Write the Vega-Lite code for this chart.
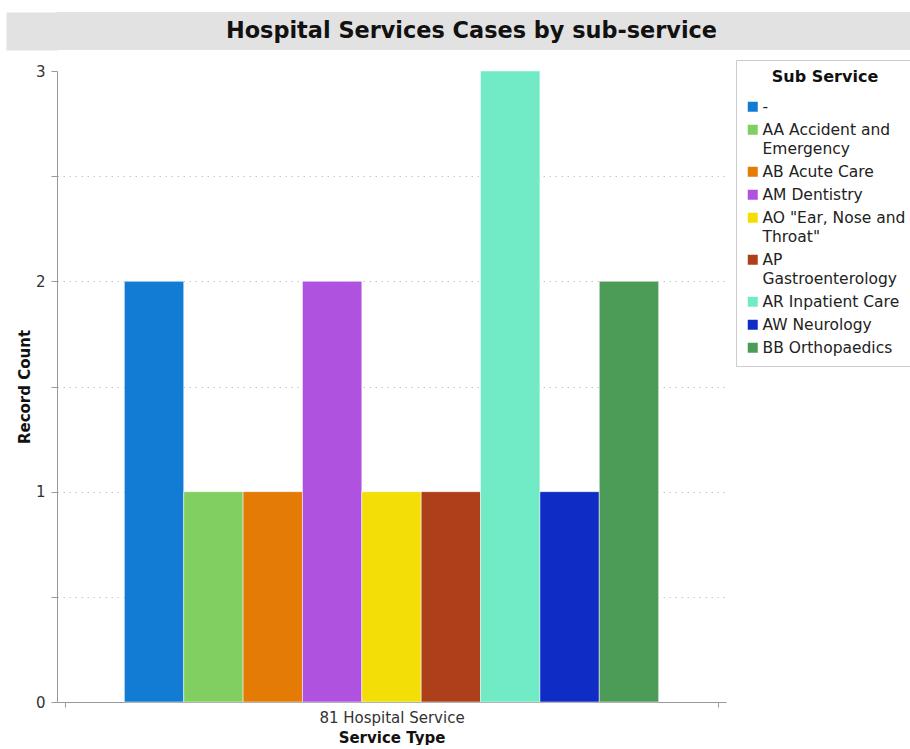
{
  "$schema": "https://vega.github.io/schema/vega-lite/v6.json",
  "background": "white",
  "padding": {"left": 17, "top": 12, "right": 0, "bottom": 0},
  "config": {
    "font": "DejaVu Sans",
    "view": {"stroke": null},
    "style": {"guide-label": {"lineHeight": 19}}
  },
  "datasets": {
    "cases": [
      {"service": "81 Hospital Service", "sub": "-", "count": 2},
      {"service": "81 Hospital Service", "sub": "AA Accident and Emergency", "count": 1},
      {"service": "81 Hospital Service", "sub": "AB Acute Care", "count": 1},
      {"service": "81 Hospital Service", "sub": "AM Dentistry", "count": 2},
      {"service": "81 Hospital Service", "sub": "AO \"Ear, Nose and Throat\"", "count": 1},
      {"service": "81 Hospital Service", "sub": "AP Gastroenterology", "count": 1},
      {"service": "81 Hospital Service", "sub": "AR Inpatient Care", "count": 3},
      {"service": "81 Hospital Service", "sub": "AW Neurology", "count": 1},
      {"service": "81 Hospital Service", "sub": "BB Orthopaedics", "count": 2}
    ]
  },
  "resolve": {"scale": {"color": "independent"}, "legend": {"color": "independent"}},
  "vconcat": [
    {
      "width": 854,
      "height": 38,
      "view": {"fill": "#e2e2e2", "stroke": null},
      "data": {"values": [{"heading": "Hospital Services Cases by sub-service"}]},
      "mark": {
        "type": "text",
        "fontSize": 22.4,
        "fontWeight": "bold",
        "color": "#111111",
        "dx": -12.5,
        "baseline": "middle"
      },
      "encoding": {
        "text": {"field": "heading"},
        "y": {
          "datum": 0,
          "type": "quantitative",
          "scale": {"domain": [-1, 1]},
          "axis": {
            "title": null,
            "labels": false,
            "ticks": false,
            "grid": false,
            "domainColor": "#e2e2e2",
            "domainWidth": 51,
            "offset": 25.5
          }
        }
      }
    },
    {
      "width": 669,
      "height": 631,
      "data": {"name": "cases"},
      "mark": {"type": "bar", "stroke": "#ffffff", "strokeWidth": 1, "strokeOpacity": 0.5},
      "encoding": {
        "x": {
          "field": "service",
          "type": "nominal",
          "scale": {"paddingInner": 0, "paddingOuter": 0.01225},
          "axis": {
            "title": "Service Type",
            "titleFontSize": 15,
            "titleFontWeight": "bold",
            "titleColor": "#111111",
            "titlePadding": 5,
            "labelAngle": 0,
            "labelFontSize": 15,
            "labelColor": "#333333",
            "labelPadding": 3,
            "tickBand": "extent",
            "tickColor": "#999999",
            "tickSize": 5,
            "domainColor": "#999999",
            "grid": false
          }
        },
        "xOffset": {
          "field": "sub",
          "type": "nominal",
          "sort": null,
          "scale": {"paddingInner": 0, "paddingOuter": 1}
        },
        "y": {
          "field": "count",
          "type": "quantitative",
          "scale": {"domain": [0, 3], "nice": false},
          "axis": {
            "title": "Record Count",
            "titleFontSize": 15,
            "titleFontWeight": "bold",
            "titleColor": "#111111",
            "titlePadding": 3,
            "values": [0, 0.5, 1, 1.5, 2, 2.5, 3],
            "labelExpr": "datum.value % 1 ? '' : format(datum.value, 'd')",
            "labelFontSize": 15,
            "labelColor": "#333333",
            "labelPadding": 6,
            "tickSize": 6,
            "tickColor": "#999999",
            "domainColor": "#999999",
            "grid": true,
            "gridColor": "#c8c8c8",
            "gridDash": [1.5, 4.5],
            "gridOpacity": {"condition": {"test": "datum.value == 0 || datum.value == 3", "value": 0}, "value": 1}
          }
        },
        "color": {
          "field": "sub",
          "type": "nominal",
          "sort": null,
          "scale": {
            "domain": [
              "-",
              "AA Accident and Emergency",
              "AB Acute Care",
              "AM Dentistry",
              "AO \"Ear, Nose and Throat\"",
              "AP Gastroenterology",
              "AR Inpatient Care",
              "AW Neurology",
              "BB Orthopaedics"
            ],
            "range": ["#127bd3", "#80cf60", "#e47b04", "#b052e0", "#f3de07", "#ad401a", "#70ebc5", "#0f2cc5", "#4c9b57"]
          },
          "legend": {
            "orient": "none",
            "legendX": 679,
            "legendY": -11,
            "title": "Sub Service",
            "titleFontSize": 16,
            "titleFontWeight": "bold",
            "titleColor": "#111111",
            "titleAnchor": "middle",
            "titlePadding": 14,
            "labelFontSize": 15.5,
            "labelColor": "#222222",
            "labelLimit": 220,
            "labelOffset": 2,
            "labelExpr": "datum.label == 'AA Accident and Emergency' ? ['AA Accident and', 'Emergency'] : datum.label == 'AO \"Ear, Nose and Throat\"' ? ['AO \"Ear, Nose and', 'Throat\"'] : datum.label == 'AP Gastroenterology' ? ['AP', 'Gastroenterology'] : datum.label",
            "symbolType": "square",
            "symbolSize": 100,
            "symbolStrokeWidth": 0,
            "rowPadding": 6,
            "strokeColor": "#cccccc",
            "fillColor": "#ffffff",
            "padding": 9
          }
        }
      }
    }
  ],
  "spacing": 9
}
